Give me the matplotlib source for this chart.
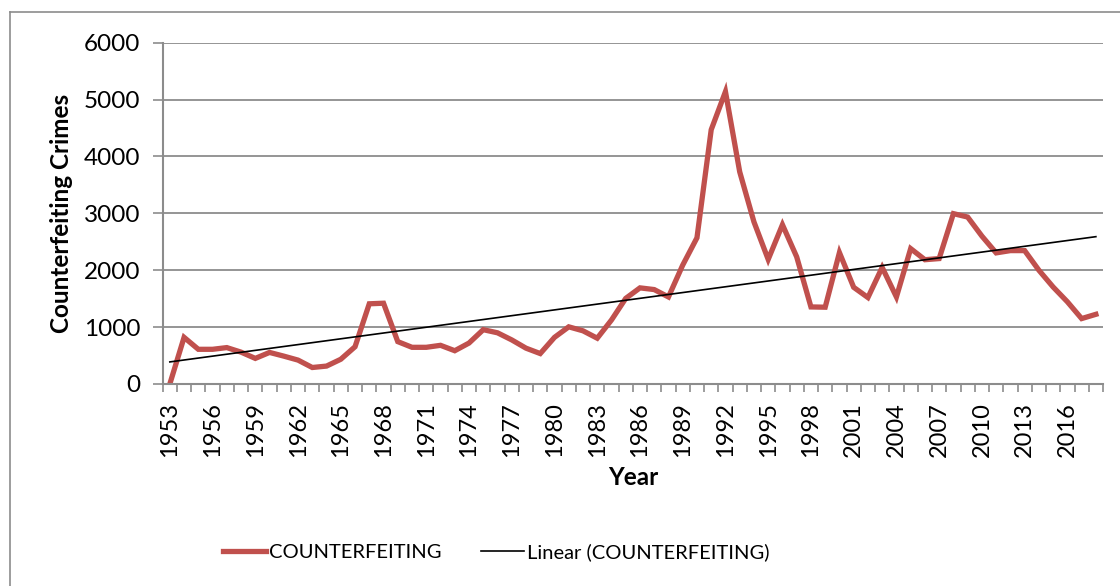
import matplotlib.pyplot as plt
from matplotlib.lines import Line2D
import numpy as np

plt.rcParams['font.family'] = ['Lato', 'DejaVu Sans']

years = list(range(1953, 2019))
crimes = [0, 820, 610, 610, 640, 560, 450, 555, 490, 420,
          290, 315, 435, 655, 1410, 1420, 745, 645, 645, 680,
          585, 720, 955, 900, 775, 630, 535, 820, 1005, 935,
          805, 1125, 1505, 1690, 1660, 1530, 2090, 2570, 4470, 5140,
          3730, 2850, 2190, 2800, 2235, 1355, 1350, 2310, 1700, 1520,
          2050, 1530, 2380, 2185, 2205, 2995, 2935, 2600, 2305, 2345,
          2345, 2000, 1705, 1445, 1150, 1225]

RED = '#C0504D'
GRID = '#8C8C8C'

fig = plt.figure(figsize=(11.2, 5.86), dpi=100)
ax = fig.add_axes([162.7/1120, 1-384/586, (1103-162.7)/1120, (384-42.7)/586])

x = np.arange(len(years))
ax.plot(x, crimes, color=RED, lw=3.8, solid_joinstyle='miter', label='COUNTERFEITING')

# linear trendline
k, b = np.polyfit(x, crimes, 1)
ax.plot(x, k*x + b, color='black', lw=1.2, label='Linear (COUNTERFEITING)')

ax.set_xlim(-0.5, len(years) - 0.5)
ax.set_ylim(0, 6000)
ax.set_yticks(np.arange(0, 6001, 1000))
ax.yaxis.grid(True, color=GRID, lw=1.3)
ax.set_axisbelow(True)

# tick marks on category boundaries, labels every 3 years
ax.set_xticks(np.arange(-0.5, len(years), 1))
ax.set_xticklabels([])
ax.set_xticks(x[::3], minor=True)
ax.set_xticklabels([str(y) for y in years[::3]], minor=True, rotation=90, fontsize=17)
ax.tick_params(axis='x', which='major', length=6, width=1.2, color=GRID)
ax.tick_params(axis='x', which='minor', length=0, pad=13)
ax.tick_params(axis='y', length=7, width=1.2, color=GRID, labelsize=17.5, pad=9)

for s in ['top', 'right']:
    ax.spines[s].set_visible(False)
for s in ['left', 'bottom']:
    ax.spines[s].set_color(GRID)
    ax.spines[s].set_linewidth(1.5)

ax.set_ylabel('Counterfeiting Crimes', fontsize=17.5, fontweight='bold', labelpad=8)
ax.set_xlabel('Year', fontsize=17.5, fontweight='bold', labelpad=6)

fig.legend(loc='center', bbox_to_anchor=(0.443, 1-552/586), ncol=2, frameon=False,
           fontsize=14.5, handlelength=2.1, handletextpad=0.15, columnspacing=2.0)

# outer chart border
fig.add_artist(Line2D([10/1120, 10/1120], [0, 1-12/586], color=GRID, lw=1.2))
fig.add_artist(Line2D([10/1120, 1], [1-12/586, 1-12/586], color=GRID, lw=1.2))

fig.savefig('out.png', dpi=100, facecolor='white')
